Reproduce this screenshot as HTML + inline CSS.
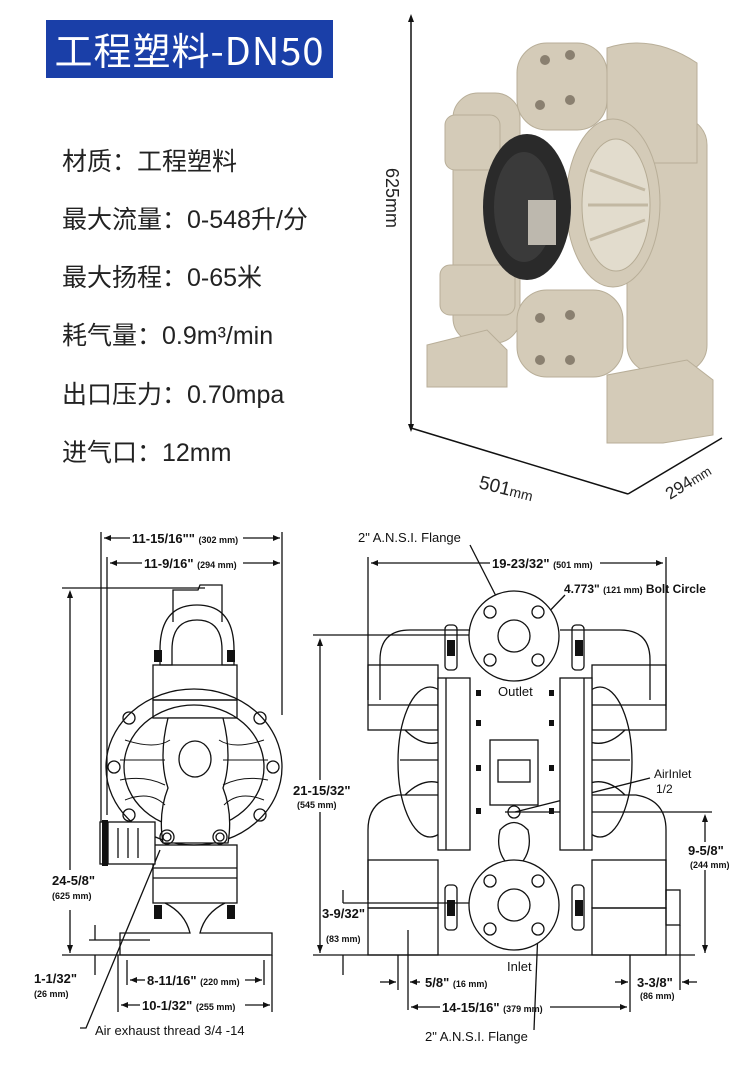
<!DOCTYPE html>
<html><head><meta charset="utf-8"><style>
html,body{margin:0;padding:0;background:#fff;}
body{width:750px;height:1066px;position:relative;overflow:hidden;font-family:"Liberation Sans","Noto Sans CJK SC",sans-serif;}
.banner{position:absolute;left:46px;top:20px;width:287px;height:58px;background:#1a3fa8;color:#fff;font-size:38px;line-height:58px;text-align:center;font-family:"Noto Sans CJK SC","Liberation Sans",sans-serif;letter-spacing:1px;}
.spec{position:absolute;left:62px;font-size:25px;color:#222;font-family:"Liberation Sans","Noto Sans CJK SC",sans-serif;}
svg{position:absolute;left:0;top:0;}
</style></head><body>
<div class="banner">工程塑料-DN50</div>
<div class="spec" style="top:142px">材质：工程塑料</div>
<div class="spec" style="top:200px">最大流量：0-548升/分</div>
<div class="spec" style="top:258px">最大扬程：0-65米</div>
<div class="spec" style="top:316px">耗气量：0.9m³/min</div>
<div class="spec" style="top:375px">出口压力：0.70mpa</div>
<div class="spec" style="top:433px">进气口：12mm</div>

<svg width="750" height="1066" viewBox="0 0 750 1066" xmlns="http://www.w3.org/2000/svg">
<g stroke="#111" stroke-width="1.5" fill="none">
<line x1="411" y1="18" x2="411" y2="428"/>
<line x1="411" y1="428" x2="628" y2="494"/>
<line x1="628" y1="494" x2="722" y2="438"/>
</g>
<g fill="#111"><path d="M411 14 l-3 8 h6z"/><path d="M411 432 l-3 -8 h6z"/></g>
<text x="0" y="0" transform="translate(386,168) rotate(90)" font-size="18" fill="#222">625mm</text>
<text x="0" y="0" transform="translate(478,488) rotate(14)" font-size="19" fill="#222">501<tspan font-size="14">mm</tspan></text>
<text x="0" y="0" transform="translate(670,500) rotate(-32)" font-size="17" fill="#222">294<tspan font-size="13">mm</tspan></text>

<!-- pump photo -->
<g fill="#d4cbb8" stroke="#b8ae98" stroke-width="1">
<rect x="453" y="93" width="67" height="250" rx="25"/>
<rect x="627" y="117" width="80" height="256" rx="28"/>
<path d="M607 48 q45 -15 90 15 v100 h-90z"/>
<rect x="517" y="43" width="90" height="87" rx="30"/>
<rect x="517" y="290" width="106" height="87" rx="30"/>
<path d="M427 345 l60 -15 20 20 v37 h-80z"/>
<path d="M607 375 l80 -15 26 20 v55 l-50 8 h-56z"/>
<ellipse cx="613" cy="203" rx="47" ry="84"/>
<rect x="440" y="265" width="75" height="50" rx="10"/>
<rect x="445" y="115" width="55" height="55" rx="10"/>
</g>
<ellipse cx="527" cy="207" rx="44" ry="73" fill="#2a2a2a"/>
<ellipse cx="524" cy="207" rx="30" ry="55" fill="#3a3a3a"/>
<rect x="528" y="200" width="28" height="45" fill="#bdb8ae"/>
<ellipse cx="616" cy="205" rx="34" ry="66" fill="#e2dccd" stroke="#b5ab94"/>
<g stroke="#c2b8a2" stroke-width="3"><line x1="590" y1="170" x2="645" y2="190"/><line x1="588" y1="205" x2="648" y2="205"/><line x1="590" y1="240" x2="645" y2="220"/></g>
<g fill="#8a8070"><circle cx="545" cy="60" r="5"/><circle cx="570" cy="55" r="5"/><circle cx="540" cy="105" r="5"/><circle cx="570" cy="100" r="5"/>
<circle cx="540" cy="318" r="5"/><circle cx="570" cy="315" r="5"/><circle cx="540" cy="360" r="5"/><circle cx="570" cy="360" r="5"/></g>

<!-- ===== Left drawing ===== -->
<g stroke="#111" stroke-width="1.3" fill="none">
<line x1="101" y1="532" x2="101" y2="840"/>
<line x1="107" y1="557" x2="107" y2="815"/>
<line x1="282" y1="532" x2="282" y2="715"/>
<line x1="104" y1="538" x2="130" y2="538"/><line x1="243" y1="538" x2="280" y2="538"/>
<line x1="110" y1="563" x2="142" y2="563"/><line x1="243" y1="563" x2="280" y2="563"/>
<line x1="62" y1="588" x2="205" y2="588"/>
<line x1="70" y1="592" x2="70" y2="870"/><line x1="70" y1="910" x2="70" y2="953"/>
<line x1="62" y1="955" x2="270" y2="955"/>
<line x1="89" y1="940" x2="150" y2="940"/>
<line x1="95" y1="925" x2="95" y2="940"/><line x1="95" y1="955" x2="95" y2="975"/>
<line x1="118" y1="955" x2="118" y2="1012"/><line x1="272" y1="955" x2="272" y2="1012"/>
<line x1="127" y1="960" x2="127" y2="985"/><line x1="264" y1="960" x2="264" y2="985"/>
<line x1="130" y1="980" x2="145" y2="980"/><line x1="245" y1="980" x2="262" y2="980"/>
<line x1="121" y1="1005" x2="140" y2="1005"/><line x1="245" y1="1005" x2="270" y2="1005"/>
<path d="M80 1028 h6 L160 850"/>
<path d="M173 622 v-32 h25 l2 -5 h22 v37"/>
<path d="M160 650 q0 -45 37 -45 q37 0 37 45 v15 h-12 v-15 q0 -30 -25 -30 q-25 0 -25 30 v15 h-12z"/>
<rect x="153" y="665" width="84" height="35"/>
<rect x="153" y="700" width="84" height="18"/>
<ellipse cx="194" cy="767" rx="88" ry="78"/>
<ellipse cx="194" cy="767" rx="70" ry="62"/>
<path d="M168 718 q-10 40 0 70 q-10 25 -5 55 h65 q5 -30 -5 -55 q10 -30 0 -70z" fill="#fff"/>
<ellipse cx="195" cy="759" rx="16" ry="18"/>
<rect x="153" y="845" width="84" height="58"/>
<line x1="153" y1="868" x2="237" y2="868"/><line x1="153" y1="878" x2="237" y2="878"/>
<path d="M165 903 q20 10 25 30 h-70 v22 h152 v-22 h-72 q5 -20 25 -30"/>
<rect x="100" y="822" width="55" height="42" fill="#fff"/>
<line x1="104" y1="822" x2="104" y2="864"/><line x1="108" y1="822" x2="108" y2="864"/>
<line x1="118" y1="828" x2="118" y2="858"/><line x1="128" y1="828" x2="128" y2="858"/><line x1="138" y1="828" x2="138" y2="858"/>
<circle cx="167" cy="837" r="7"/><circle cx="167" cy="837" r="4"/>
<circle cx="220" cy="837" r="7"/><circle cx="220" cy="837" r="4"/>
<circle cx="129" cy="718" r="6"/><circle cx="260" cy="718" r="6"/>
<circle cx="114" cy="767" r="6"/><circle cx="273" cy="767" r="6"/>
<circle cx="129" cy="815" r="6"/><circle cx="260" cy="815" r="6"/>
<g stroke-width="1">
<path d="M125 740 q30 10 45 0"/><path d="M120 760 h45"/><path d="M120 780 q25 -5 45 5"/><path d="M125 800 q25 -10 40 5"/>
<path d="M264 740 q-30 10 -45 0"/><path d="M268 760 h-45"/><path d="M268 780 q-25 -5 -45 5"/><path d="M264 800 q-25 -10 -40 5"/>
</g>
</g>
<g fill="#111">
<rect x="154" y="650" width="8" height="12"/><rect x="227" y="650" width="8" height="12"/>
<rect x="154" y="905" width="8" height="14"/><rect x="227" y="905" width="8" height="14"/>
<rect x="102" y="820" width="6" height="46"/>
<path d="M104 538 l7 -3 v6z"/><path d="M280 538 l-7 -3 v6z"/>
<path d="M110 563 l7 -3 v6z"/><path d="M280 563 l-7 -3 v6z"/>
<path d="M70 590 l-3 8 h6z"/><path d="M70 953 l-3 -8 h6z"/>
<path d="M130 980 l7 -3 v6z"/><path d="M262 980 l-7 -3 v6z"/>
<path d="M121 1005 l7 -3 v6z"/><path d="M270 1005 l-7 -3 v6z"/>
</g>
<g font-family="Liberation Sans" font-weight="bold" fill="#111">
<text x="132" y="543" font-size="13">11-15/16"" <tspan font-size="9">(302 mm)</tspan></text>
<text x="144" y="568" font-size="13">11-9/16" <tspan font-size="9">(294 mm)</tspan></text>
<text x="52" y="885" font-size="13">24-5/8"</text>
<text x="52" y="899" font-size="9">(625 mm)</text>
<text x="34" y="983" font-size="13">1-1/32"</text>
<text x="34" y="997" font-size="9">(26 mm)</text>
<text x="147" y="985" font-size="13">8-11/16" <tspan font-size="9">(220 mm)</tspan></text>
<text x="142" y="1010" font-size="13">10-1/32" <tspan font-size="9">(255 mm)</tspan></text>
<text x="95" y="1035" font-size="13" font-weight="normal">Air exhaust thread 3/4 -14</text>
</g>

<!-- ===== Right drawing ===== -->
<g stroke="#111" stroke-width="1.3" fill="none">
<line x1="368" y1="557" x2="368" y2="700"/><line x1="666" y1="557" x2="666" y2="710"/>
<line x1="371" y1="563" x2="490" y2="563"/><line x1="600" y1="563" x2="663" y2="563"/>
<line x1="313" y1="635" x2="515" y2="635"/>
<line x1="320" y1="640" x2="320" y2="780"/><line x1="320" y1="812" x2="320" y2="953"/>
<line x1="313" y1="955" x2="695" y2="955"/>
<line x1="343" y1="903" x2="515" y2="903"/>
<line x1="343" y1="890" x2="343" y2="903"/><line x1="343" y1="955" x2="343" y2="975"/>
<line x1="505" y1="812" x2="712" y2="812"/>
<line x1="705" y1="816" x2="705" y2="842"/><line x1="705" y1="870" x2="705" y2="953"/>
<line x1="398" y1="955" x2="398" y2="990"/><line x1="408" y1="930" x2="408" y2="1010"/>
<line x1="630" y1="955" x2="630" y2="1012"/><line x1="680" y1="925" x2="680" y2="990"/>
<line x1="380" y1="982" x2="396" y2="982"/><line x1="410" y1="982" x2="420" y2="982"/>
<line x1="615" y1="982" x2="628" y2="982"/><line x1="682" y1="982" x2="697" y2="982"/>
<line x1="411" y1="1007" x2="440" y2="1007"/><line x1="550" y1="1007" x2="627" y2="1007"/>
<path d="M470 545 L498 600"/>
<path d="M534 1030 L538 930"/>
<path d="M495 668 L565 595"/>
<path d="M650 778 L515 812"/>
<path d="M380 700 v-40 q0 -30 30 -30 h60"/><path d="M560 630 h60 q30 0 30 30 v40"/>
<rect x="445" y="625" width="12" height="45" rx="4"/><rect x="572" y="625" width="12" height="45" rx="4"/>
<rect x="368" y="665" width="70" height="65"/><rect x="592" y="665" width="74" height="65"/>
<line x1="368" y1="705" x2="438" y2="705"/><line x1="592" y1="705" x2="666" y2="705"/>
<circle cx="514" cy="636" r="45" fill="#fff"/><circle cx="514" cy="636" r="16"/>
<circle cx="490" cy="612" r="6"/><circle cx="538" cy="612" r="6"/><circle cx="490" cy="660" r="6"/><circle cx="538" cy="660" r="6"/>
<ellipse cx="430" cy="762" rx="32" ry="75"/><ellipse cx="600" cy="762" rx="32" ry="75"/>
<path d="M405 730 q20 20 40 10 M400 760 h45 M405 795 q20 -20 40 -10"/>
<path d="M625 730 q-20 20 -40 10 M630 760 h-45 M625 795 q-20 -20 -40 -10"/>
<rect x="438" y="678" width="32" height="172" fill="#fff"/><rect x="560" y="678" width="32" height="172" fill="#fff"/>
<line x1="446" y1="678" x2="446" y2="850"/><line x1="584" y1="678" x2="584" y2="850"/>
<rect x="490" y="740" width="48" height="65"/>
<rect x="498" y="760" width="32" height="22"/>
<path d="M500 830 q14 -15 28 0 q6 25 -14 40 q-20 -15 -14 -40z"/>
<circle cx="514" cy="812" r="6"/>
<path d="M368 900 v-70 q0 -30 30 -35 h40"/><path d="M666 900 v-70 q0 -30 -30 -35 h-44"/>
<rect x="368" y="860" width="70" height="48"/><rect x="592" y="860" width="74" height="48"/>
<rect x="368" y="908" width="70" height="47"/><rect x="592" y="908" width="74" height="47"/>
<rect x="445" y="885" width="12" height="45" rx="4"/><rect x="572" y="885" width="12" height="45" rx="4"/>
<rect x="666" y="890" width="14" height="35"/>
<circle cx="514" cy="905" r="45" fill="#fff"/><circle cx="514" cy="905" r="16"/>
<circle cx="490" cy="881" r="6"/><circle cx="538" cy="881" r="6"/><circle cx="490" cy="929" r="6"/><circle cx="538" cy="929" r="6"/>
</g>
<g fill="#111">
<rect x="447" y="640" width="8" height="16"/><rect x="575" y="640" width="8" height="16"/>
<rect x="447" y="900" width="8" height="16"/><rect x="575" y="900" width="8" height="16"/>
<rect x="476" y="690" width="5" height="6"/><rect x="549" y="690" width="5" height="6"/>
<rect x="476" y="720" width="5" height="6"/><rect x="549" y="720" width="5" height="6"/>
<rect x="476" y="765" width="5" height="6"/><rect x="549" y="765" width="5" height="6"/>
<rect x="476" y="808" width="5" height="6"/><rect x="549" y="808" width="5" height="6"/>
<path d="M371 563 l7 -3 v6z"/><path d="M663 563 l-7 -3 v6z"/>
<path d="M320 638 l-3 8 h6z"/><path d="M320 953 l-3 -8 h6z"/>
<path d="M705 814 l-3 8 h6z"/><path d="M705 953 l-3 -8 h6z"/>
<path d="M396 982 l-7 -3 v6z"/><path d="M410 982 l7 -3 v6z"/>
<path d="M628 982 l-7 -3 v6z"/><path d="M682 982 l7 -3 v6z"/>
<path d="M411 1007 l7 -3 v6z"/><path d="M627 1007 l-7 -3 v6z"/>
</g>
<g font-family="Liberation Sans" font-weight="bold" fill="#111">
<text x="358" y="542" font-size="13" font-weight="normal">2" A.N.S.I. Flange</text>
<text x="492" y="568" font-size="13">19-23/32" <tspan font-size="9">(501 mm)</tspan></text>
<text x="564" y="593" font-size="12">4.773" <tspan font-size="9">(121 mm)</tspan> Bolt Circle</text>
<text x="498" y="696" font-size="13" font-weight="normal">Outlet</text>
<text x="293" y="795" font-size="13">21-15/32"</text>
<text x="297" y="808" font-size="9">(545 mm)</text>
<text x="654" y="778" font-size="12" font-weight="normal">AirInlet</text>
<text x="656" y="793" font-size="12" font-weight="normal">1/2</text>
<text x="688" y="855" font-size="13">9-5/8"</text>
<text x="690" y="868" font-size="9">(244 mm)</text>
<text x="322" y="918" font-size="13">3-9/32"</text>
<text x="326" y="942" font-size="9">(83 mm)</text>
<text x="507" y="971" font-size="13" font-weight="normal">Inlet</text>
<text x="425" y="987" font-size="13">5/8" <tspan font-size="9">(16 mm)</tspan></text>
<text x="637" y="987" font-size="13">3-3/8"</text>
<text x="640" y="999" font-size="9">(86 mm)</text>
<text x="442" y="1012" font-size="13">14-15/16" <tspan font-size="9">(379 mm)</tspan></text>
<text x="425" y="1041" font-size="13" font-weight="normal">2" A.N.S.I. Flange</text>
</g>
</svg>
</body></html>
